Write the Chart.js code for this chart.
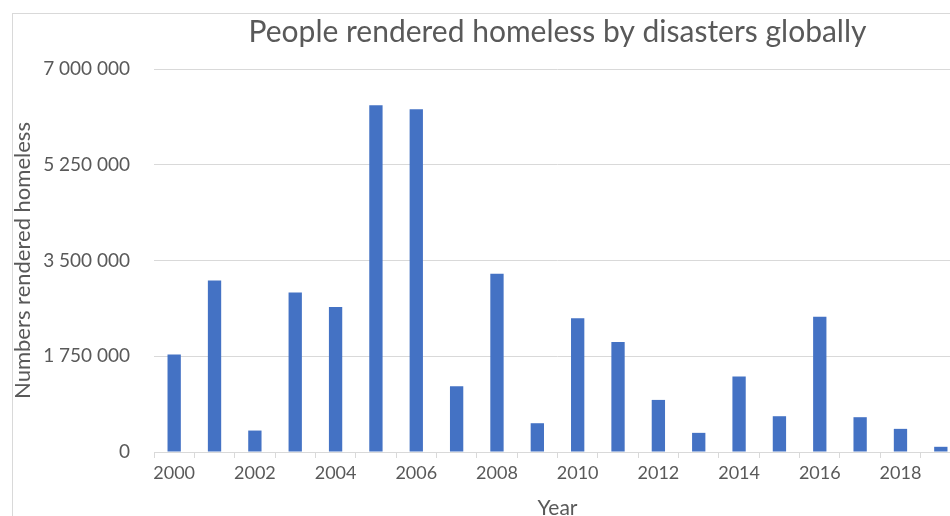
<!DOCTYPE html>
<html>
<head>
<meta charset="utf-8">
<script src="https://cdn.jsdelivr.net/npm/chart.js@4/dist/chart.umd.min.js"></script>
<style>
  html, body { margin: 0; padding: 0; background: #ffffff; overflow: hidden; width: 950px; height: 516px; }
  #frame { position: absolute; left: 12px; top: 13px; width: 1100px; height: 600px; border: 1px solid #d9d9d9; box-sizing: border-box; }
  #wrap { position: absolute; left: 0; top: 0; width: 1000px; height: 530px; }
</style>
</head>
<body>
<div id="frame"></div>
<div id="wrap"><canvas id="c" width="1000" height="530"></canvas></div>
<script>
const years = ["2000","2001","2002","2003","2004","2005","2006","2007","2008","2009",
               "2010","2011","2012","2013","2014","2015","2016","2017","2018","2019"];
const homeless = [1780000, 3136000, 392000, 2917000, 2650000, 6337000, 6264000, 1201000, 3258000, 526000,
                  2443000, 2011000, 952000, 350000, 1378000, 654000, 2473000, 636000, 423000, 95000];
const yTicks = [0, 1750000, 3500000, 5250000, 7000000];
const chartTitle = "People rendered homeless by disasters globally";
const yTitle = "Numbers rendered homeless";
const xTitle = "Year";

const FONT = "Lato, 'Open Sans', sans-serif";
const GREY_TXT = "#595959";
const GRID = "#d9d9d9";

function fmt(v) {
  return String(v).replace(/\B(?=(\d{3})+(?!\d))/g, " ");
}

new Chart(document.getElementById("c"), {
  type: "bar",
  data: {
    labels: years,
    datasets: [{
      data: homeless,
      backgroundColor: "#4472C4",
      borderWidth: 0,
      categoryPercentage: 1.0,
      barPercentage: 0.33
    }]
  },
  options: {
    responsive: false,
    animation: false,
    devicePixelRatio: 1,
    layout: { padding: { left: 0, right: 39, top: 0, bottom: 0 } },
    plugins: {
      legend: { display: false },
      tooltip: { enabled: false },
      title: {
        display: true,
        text: chartTitle,
        fullSize: false,
        color: GREY_TXT,
        font: { family: FONT, size: 30, weight: "normal" },
        padding: { top: 14, bottom: 19 }
      }
    },
    scales: {
      x: {
        type: "category",
        offset: true,
        afterFit: (s) => { s.height = 78; },
        grid: {
          offset: true,
          drawOnChartArea: false,
          drawTicks: true,
          tickLength: 6,
          color: GRID
        },
        border: { display: true, color: GRID, width: 1 },
        ticks: {
          autoSkip: false,
          maxRotation: 0,
          minRotation: 0,
          padding: 4,
          color: GREY_TXT,
          font: { family: FONT, size: 18 },
          callback: function (val, idx) { return idx % 2 === 0 ? this.getLabelForValue(val) : ""; }
        },
        title: {
          display: true,
          text: xTitle,
          color: GREY_TXT,
          font: { family: FONT, size: 21 },
          padding: { top: 0, bottom: 9 }
        }
      },
      y: {
        min: 0,
        max: 7000000,
        afterFit: (s) => { s.width = 154; },
        afterBuildTicks: (s) => { s.ticks = yTicks.map(v => ({ value: v })); },
        grid: { color: GRID, drawTicks: false, lineWidth: 1 },
        border: { display: false },
        ticks: {
          padding: 24,
          color: GREY_TXT,
          font: { family: FONT, size: 19 },
          callback: (v) => fmt(v)
        },
        title: {
          display: true,
          text: yTitle,
          color: GREY_TXT,
          font: { family: FONT, size: 22 },
          padding: { top: 10, bottom: 0 }
        }
      }
    }
  }
});
</script>
</body>
</html>
